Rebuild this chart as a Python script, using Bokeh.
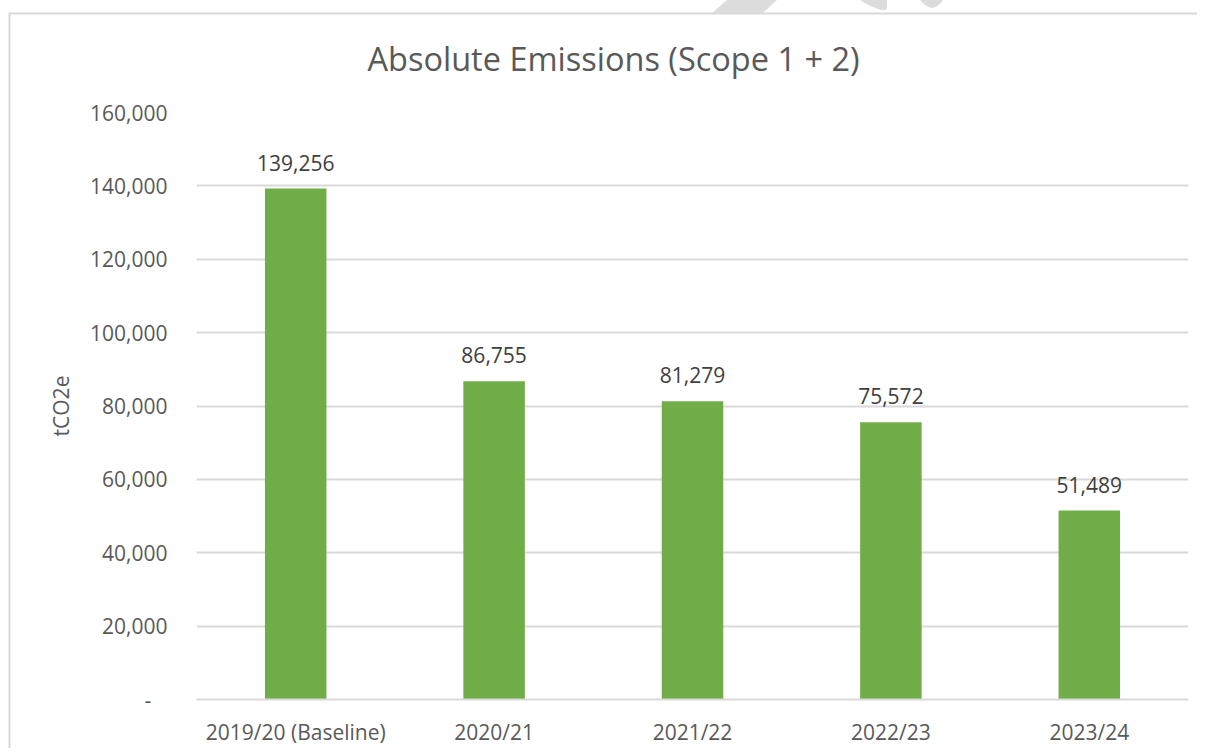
from bokeh.plotting import figure
from bokeh.models import ColumnDataSource, NumeralTickFormatter, FixedTicker, InlineStyleSheet
from bokeh.core.properties import value
from bokeh.embed import file_html
from bokeh.resources import INLINE

categories = ["2019/20 (Baseline)", "2020/21", "2021/22", "2022/23", "2023/24"]
emissions = [139256, 86755, 81279, 75572, 51489]
labels = ["139,256", "86,755", "81,279", "75,572", "51,489"]
y_ticks = [0, 20000, 40000, 60000, 80000, 100000, 120000, 140000, 160000]

FONT = "Open Sans"
AXIS_COLOR = "#595959"
FS = "21px"

src = ColumnDataSource(dict(cat=categories, val=emissions, lab=labels))

p = figure(x_range=categories, y_range=(0, 160000), width=1198, height=748,
           output_backend="svg", toolbar_location=None,
           min_border_left=196, min_border_right=10, min_border_top=112, min_border_bottom=47,
           title="Absolute Emissions (Scope 1 + 2)")

p.vbar(x="cat", top="val", width=0.31, source=src, fill_color="#70ad47", line_color=None)
p.text(x="cat", y="val", text="lab", source=src, text_align="center", text_baseline="middle",
       y_offset=-26, text_font=value(FONT), text_font_size=FS, text_color="#404040")

p.title.align = "left"
p.title.offset = 171
p.title.text_font = FONT
p.title.text_font_size = "32.5px"
p.title.text_font_style = "normal"
p.title.text_color = AXIS_COLOR
p.title.standoff = 64

p.outline_line_color = None
p.xgrid.grid_line_color = None
p.ygrid.grid_line_color = "#d9d9d9"
p.ygrid.grid_line_width = 2

p.yaxis.ticker = FixedTicker(ticks=y_ticks)
p.yaxis.formatter = NumeralTickFormatter(format="0,0")
p.yaxis.major_label_overrides = {0: "-\u00a0\u00a0\u00a0"}
p.yaxis.axis_label = "tCO2e"
for ax in (p.xaxis[0], p.yaxis[0]):
    ax.axis_line_color = None
    ax.major_tick_line_color = None
    ax.minor_tick_line_color = None
    ax.major_label_text_font = FONT
    ax.major_label_text_font_size = FS
    ax.major_label_text_color = AXIS_COLOR
    ax.axis_label_text_font = FONT
    ax.axis_label_text_font_size = FS
    ax.axis_label_text_font_style = "normal"
    ax.axis_label_text_color = AXIS_COLOR
p.yaxis.major_label_standoff = 23
p.yaxis.axis_label_standoff = 12
p.xaxis.major_label_standoff = 12
p.xaxis.axis_line_color = "#d9d9d9"
p.xaxis.axis_line_width = 2

deco_svg = (
    "<svg xmlns='http://www.w3.org/2000/svg' width='1198' height='748'>"
    "<path d='M9.5 760 V13.5 H1197' stroke='%23d9d9d9' stroke-width='2' fill='none'/>"
    "<path d='M712 13 L727 0 L777 0 L763 13 Z M860 0 L887 0 L887 8 Q886 11 881 10 Q868 6 860 0 Z "
    "M920 0 L943 0 Q939 6 933 8 Q927 8 920 0 Z' fill='%23dcdcdc'/>"
    "</svg>"
)
p.stylesheets = [InlineStyleSheet(css=f"""
:host::before {{
  content: ""; position: absolute; left: 0; top: 0; width: 1198px; height: 748px;
  background: url("data:image/svg+xml,{deco_svg}") no-repeat 0 0;
  pointer-events: none; z-index: 5;
}}
""")]

open("out.html", "w").write(file_html(p, INLINE))
